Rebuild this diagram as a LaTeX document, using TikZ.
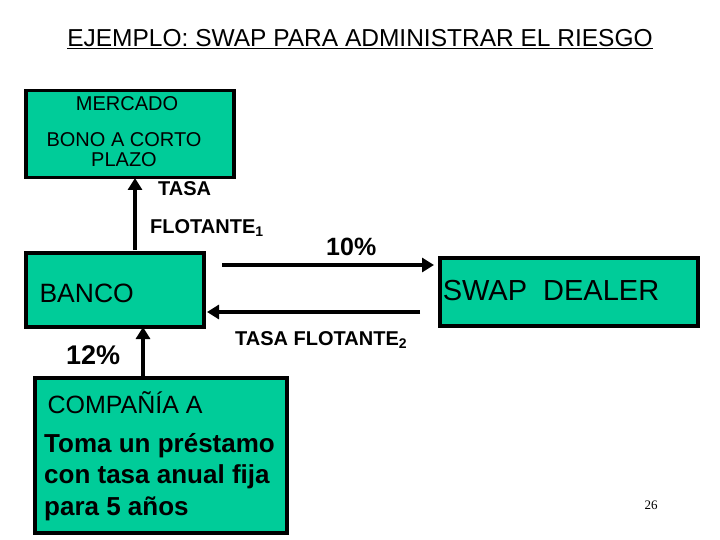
\documentclass[tikz,border=0pt]{standalone}
\usepackage{fontspec}
\setmainfont{Liberation Sans}
\usetikzlibrary{arrows.meta}
\definecolor{boxg}{RGB}{0,204,153}
\tikzset{box/.style={draw=black,line width=3.5pt,fill=boxg,inner sep=0pt},
 arr/.style={line width=3.8pt,-{Triangle[length=12pt,width=14pt]}},
 lbl/.style={font=\bfseries\fontsize{20}{24}\selectfont,inner sep=0pt,anchor=west}}
\begin{document}
\begin{tikzpicture}[x=1pt,y=-1pt]
\useasboundingbox (0,0) rectangle (720,540);
\node[anchor=south,inner sep=1pt] (title) at (360,50) {\fontsize{24.5}{28}\selectfont\underline{EJEMPLO: SWAP PARA ADMINISTRAR EL RIESGO}};
\node[box,minimum width=208,minimum height=87,anchor=north west] (merc) at (24,89) {};
\node[font=\fontsize{20}{20}\selectfont] (m1) at (127,104) {MERCADO};
\node[font=\fontsize{20}{20}\selectfont,align=center] (m2) at (124,150) {BONO A CORTO\\PLAZO};
\node[box,minimum width=178,minimum height=74,anchor=north west] (banco) at (24,251) {};
\node[font=\fontsize{26.5}{28}\selectfont,anchor=west] (bt) at (36,293) {BANCO};
\node[box,minimum width=258,minimum height=68,anchor=north west] (swap) at (438,256) {};
\node[font=\fontsize{29}{30}\selectfont] (st) at (551,291) {SWAP\ \ DEALER};
\node[box,minimum width=252,minimum height=155,anchor=north west] (comp) at (33,376) {};
\node[font=\fontsize{25}{26}\selectfont,anchor=west] (c1) at (44,403) {COMPAÑÍA A};
\node[font=\bfseries\fontsize{26}{31.5}\selectfont,anchor=north west,align=left,inner sep=0pt] (c2) at (44,433) {Toma un préstamo\\con tasa anual fija\\para 5 años};
\coordinate (a1) at (135,250);
\coordinate (a2) at (135,178);
\draw[arr] (a1) -- (a2);
\coordinate (b1) at (143,376);
\coordinate (b2) at (143,327);
\draw[arr] (b1) -- (b2);
\coordinate (c1s) at (222,265);
\coordinate (c1e) at (434,265);
\draw[arr] (c1s) -- (c1e);
\coordinate (d1s) at (420,312);
\coordinate (d1e) at (207,312);
\draw[arr] (d1s) -- (d1e);
\node[lbl] (t1) at (158,189) {TASA};
\node[lbl] (t2) at (150,228) {FLOTANTE\textsubscript{1}};
\node[lbl,font=\bfseries\fontsize{25}{26}\selectfont] (t3) at (326,247) {10\%};
\node[lbl] (t4) at (235,340) {TASA FLOTANTE\textsubscript{2}};
\node[lbl,font=\bfseries\fontsize{27}{28}\selectfont] (t5) at (66,355) {12\%};
\node[font=\fontsize{13}{14}\selectfont] (pg) at (651,505) {\setmainfont{Liberation Serif}26};
\end{tikzpicture}
\end{document}
